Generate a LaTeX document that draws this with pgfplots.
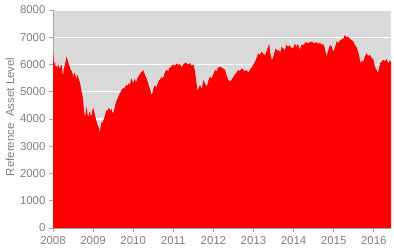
\documentclass[border=0pt]{standalone}
\usepackage{pgfplots}
\pgfplotsset{compat=1.18}
\usepackage{fontspec}
\setmainfont{Liberation Sans}
\definecolor{bggray}{HTML}{D9D9D9}
\definecolor{txtgray}{HTML}{808080}
\definecolor{axgray}{HTML}{A6A6A6}
\begin{document}
\begin{tikzpicture}
\begin{axis}[
  scale only axis,
  width=338bp, height=218bp,
  xmin=2008, xmax=2016.43,
  ymin=0, ymax=8000,
  xtick={2008,2009,2010,2011,2012,2013,2014,2015,2016},
  ytick={0,1000,2000,3000,4000,5000,6000,7000,8000},
  /pgf/number format/1000 sep={},
  /pgf/number format/assume math mode=true,
  axis lines*=left,
  axis line style={axgray, line width=0.8bp},
  tick align=outside,
  major tick length=4bp,
  tick style={axgray, line width=0.8bp},
  ymajorgrids,
  grid style={white, line width=1.2bp},
  axis background/.style={fill=bggray},
  ticklabel style={font=\fontsize{11.5}{13}\selectfont, text=txtgray},
  xticklabel style={yshift=-1bp},
  every axis y label/.style={at={(axis description cs:-0.127,0.51)}, rotate=90, anchor=center, font=\fontsize{11.5}{13}\selectfont, text=txtgray},
  ylabel={Reference~~Asset Level},
  clip=true,
]
\addplot[draw=none, fill=red] coordinates {
(2008.000,6500) (2008.012,6250) (2008.030,6000) (2008.050,6100) (2008.070,5900) (2008.090,5950)
(2008.110,5850) (2008.125,6050) (2008.150,5900) (2008.175,5850) (2008.200,6000) (2008.220,5950)
(2008.235,5700) (2008.250,5600) (2008.270,5850) (2008.300,6000) (2008.320,6150) (2008.340,6300)
(2008.355,6200) (2008.370,6150) (2008.395,6000) (2008.420,5900) (2008.445,5800) (2008.470,5750)
(2008.490,5650) (2008.510,5550) (2008.530,5700) (2008.550,5650) (2008.570,5550) (2008.590,5450)
(2008.605,5600) (2008.620,5600) (2008.645,5450) (2008.670,5350) (2008.695,5150) (2008.720,4950)
(2008.735,4850) (2008.750,4700) (2008.775,4300) (2008.800,4050) (2008.820,4300) (2008.840,4450)
(2008.860,4200) (2008.880,4050) (2008.900,4250) (2008.920,4280) (2008.945,4100) (2008.965,4150)
(2008.985,4350) (2009.005,4400) (2009.030,4250) (2009.050,4100) (2009.070,4000) (2009.090,3900)
(2009.105,3800) (2009.120,3750) (2009.140,3680) (2009.155,3600) (2009.170,3500) (2009.190,3750)
(2009.215,3900) (2009.235,3850) (2009.255,3950) (2009.280,4050) (2009.300,4150) (2009.320,4250)
(2009.340,4330) (2009.360,4300) (2009.380,4400) (2009.400,4380) (2009.420,4350) (2009.440,4300)
(2009.460,4380) (2009.480,4250) (2009.500,4200) (2009.525,4350) (2009.550,4500) (2009.570,4600)
(2009.590,4700) (2009.610,4750) (2009.630,4820) (2009.650,4900) (2009.670,4950) (2009.690,5000)
(2009.710,5060) (2009.730,5100) (2009.750,5150) (2009.775,5100) (2009.800,5190) (2009.820,5230)
(2009.840,5250) (2009.860,5200) (2009.880,5310) (2009.900,5280) (2009.920,5250) (2009.940,5400)
(2009.960,5490) (2009.980,5400) (2010.000,5300) (2010.020,5400) (2010.045,5490) (2010.065,5350)
(2010.085,5400) (2010.105,5500) (2010.125,5550) (2010.150,5600) (2010.170,5650) (2010.190,5700)
(2010.210,5720) (2010.230,5760) (2010.250,5800) (2010.270,5700) (2010.290,5650) (2010.310,5550)
(2010.330,5500) (2010.355,5400) (2010.375,5310) (2010.395,5200) (2010.420,5100) (2010.440,4980)
(2010.460,4880) (2010.480,4950) (2010.500,5100) (2010.520,5150) (2010.540,5250) (2010.560,5200)
(2010.580,5150) (2010.605,5280) (2010.630,5380) (2010.650,5420) (2010.670,5450) (2010.690,5500)
(2010.710,5550) (2010.730,5520) (2010.750,5500) (2010.770,5620) (2010.790,5700) (2010.810,5760)
(2010.835,5800) (2010.855,5780) (2010.875,5750) (2010.895,5850) (2010.920,5900) (2010.940,5920)
(2010.960,5945) (2010.980,5980) (2011.000,6000) (2011.020,5970) (2011.040,5950) (2011.065,6000)
(2011.090,6040) (2011.110,6000) (2011.130,5980) (2011.150,6020) (2011.170,6000) (2011.190,5950)
(2011.210,5900) (2011.230,5950) (2011.250,6000) (2011.270,6030) (2011.290,6060) (2011.310,6070)
(2011.330,6050) (2011.355,6020) (2011.375,6000) (2011.395,6030) (2011.420,6050) (2011.440,6000)
(2011.460,5950) (2011.480,5980) (2011.500,6000) (2011.520,5900) (2011.540,5760) (2011.560,5550)
(2011.580,5300) (2011.600,5060) (2011.620,5100) (2011.640,5150) (2011.665,5250) (2011.690,5150)
(2011.710,5100) (2011.730,5250) (2011.750,5430) (2011.770,5380) (2011.790,5300) (2011.810,5250)
(2011.835,5190) (2011.855,5300) (2011.875,5400) (2011.895,5480) (2011.915,5550) (2011.940,5520)
(2011.960,5500) (2011.980,5580) (2012.000,5650) (2012.020,5720) (2012.040,5800) (2012.060,5770)
(2012.080,5750) (2012.100,5830) (2012.120,5900) (2012.140,5890) (2012.165,5920) (2012.190,5900)
(2012.210,5880) (2012.230,5860) (2012.250,5850) (2012.270,5830) (2012.290,5800) (2012.310,5700)
(2012.330,5600) (2012.350,5520) (2012.370,5450) (2012.395,5400) (2012.415,5370) (2012.440,5420)
(2012.460,5450) (2012.480,5500) (2012.500,5550) (2012.520,5600) (2012.540,5650) (2012.560,5680)
(2012.580,5700) (2012.600,5750) (2012.620,5800) (2012.640,5780) (2012.660,5750) (2012.680,5800)
(2012.700,5850) (2012.720,5840) (2012.745,5820) (2012.765,5780) (2012.790,5750) (2012.810,5780)
(2012.830,5800) (2012.850,5750) (2012.870,5700) (2012.890,5750) (2012.910,5800) (2012.930,5840)
(2012.955,5880) (2012.975,5940) (2013.000,6000) (2013.020,6050) (2013.040,6100) (2013.060,6180)
(2013.080,6250) (2013.100,6330) (2013.120,6410) (2013.140,6380) (2013.160,6350) (2013.180,6420)
(2013.200,6470) (2013.220,6430) (2013.240,6400) (2013.265,6370) (2013.290,6350) (2013.310,6420)
(2013.330,6500) (2013.350,6580) (2013.370,6650) (2013.390,6780) (2013.405,6600) (2013.420,6410)
(2013.440,6300) (2013.460,6170) (2013.485,6250) (2013.510,6350) (2013.530,6480) (2013.550,6590)
(2013.570,6550) (2013.590,6500) (2013.610,6520) (2013.630,6530) (2013.650,6480) (2013.670,6450)
(2013.690,6550) (2013.700,6650) (2013.720,6620) (2013.740,6600) (2013.760,6550) (2013.780,6500)
(2013.800,6620) (2013.820,6720) (2013.840,6690) (2013.860,6650) (2013.885,6680) (2013.910,6700)
(2013.930,6650) (2013.950,6600) (2013.970,6620) (2013.990,6590) (2014.010,6680) (2014.030,6770)
(2014.050,6700) (2014.070,6650) (2014.090,6700) (2014.110,6750) (2014.130,6650) (2014.150,6550)
(2014.170,6620) (2014.190,6700) (2014.210,6710) (2014.230,6720) (2014.250,6740) (2014.270,6750)
(2014.290,6800) (2014.310,6830) (2014.335,6800) (2014.360,6780) (2014.385,6800) (2014.410,6820)
(2014.430,6830) (2014.450,6840) (2014.470,6820) (2014.490,6800) (2014.510,6790) (2014.530,6780)
(2014.550,6800) (2014.575,6820) (2014.600,6780) (2014.620,6750) (2014.640,6780) (2014.660,6800)
(2014.680,6760) (2014.700,6720) (2014.720,6740) (2014.740,6750) (2014.760,6680) (2014.780,6600)
(2014.800,6450) (2014.820,6290) (2014.840,6400) (2014.860,6500) (2014.885,6620) (2014.910,6720)
(2014.930,6690) (2014.950,6650) (2014.970,6550) (2014.990,6470) (2015.010,6550) (2015.030,6600)
(2015.050,6720) (2015.070,6840) (2015.090,6820) (2015.110,6800) (2015.135,6840) (2015.160,6880)
(2015.180,6900) (2015.200,6920) (2015.220,6940) (2015.240,6950) (2015.260,7020) (2015.280,7080)
(2015.300,7040) (2015.320,7000) (2015.340,7010) (2015.360,7020) (2015.380,6990) (2015.400,6950)
(2015.425,6920) (2015.450,6900) (2015.470,6870) (2015.490,6850) (2015.510,6780) (2015.530,6720)
(2015.550,6680) (2015.570,6650) (2015.590,6550) (2015.610,6470) (2015.625,6380) (2015.640,6300)
(2015.655,6150) (2015.670,6040) (2015.690,6100) (2015.705,6150) (2015.720,6120) (2015.740,6100)
(2015.760,6200) (2015.780,6300) (2015.800,6350) (2015.820,6410) (2015.840,6350) (2015.860,6300)
(2015.880,6330) (2015.905,6350) (2015.925,6300) (2015.945,6250) (2015.965,6220) (2015.990,6200)
(2016.010,6050) (2016.030,5920) (2016.050,5850) (2016.070,5800) (2016.085,5740) (2016.095,5680)
(2016.115,5760) (2016.130,5850) (2016.145,5950) (2016.155,6040) (2016.175,6080) (2016.195,6100)
(2016.215,6140) (2016.240,6170) (2016.260,6150) (2016.280,6120) (2016.300,6160) (2016.320,6200)
(2016.340,6120) (2016.360,6040) (2016.380,6100) (2016.400,6150) (2016.415,6120) (2016.430,6100)
} \closedcycle;
\end{axis}
\path (current axis.south west) ++(-53bp,-24bp) coordinate (bl);
\path (current axis.north east) ++(3bp,10bp) coordinate (tr);
\useasboundingbox (bl) rectangle (tr);
\end{tikzpicture}
\end{document}
